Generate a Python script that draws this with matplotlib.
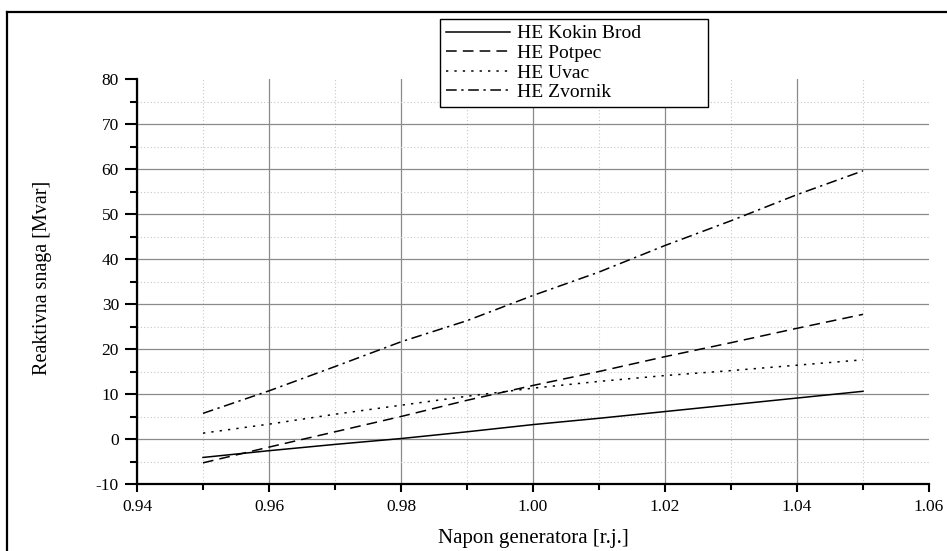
import matplotlib
matplotlib.use("Agg")
import matplotlib.pyplot as plt
from matplotlib.lines import Line2D
from matplotlib.ticker import MultipleLocator, FormatStrFormatter

# ---- data ----
napon = [0.95, 0.96, 0.97, 0.98, 0.99, 1.00, 1.01, 1.02, 1.03, 1.04, 1.05]
kokin_brod = [-4.1, -2.6, -1.2, 0.1, 1.6, 3.2, 4.6, 6.1, 7.6, 9.1, 10.6]
potpec = [-5.3, -1.8, 1.6, 5.0, 8.6, 11.9, 15.0, 18.3, 21.4, 24.6, 27.7]
uvac = [1.3, 3.3, 5.5, 7.5, 9.5, 11.3, 12.8, 14.1, 15.2, 16.4, 17.6]
zvornik = [5.7, 10.7, 16.1, 21.6, 26.3, 31.9, 37.1, 43.0, 48.5, 54.3, 59.6]
labels = ["HE Kokin Brod", "HE Potpec", "HE Uvac", "HE Zvornik"]
xlabel = "Napon generatora [r.j.]"
ylabel = "Reaktivna snaga [Mvar]"

plt.rcParams['font.family'] = ['Liberation Serif', 'DejaVu Serif']

W, H = 947, 551
fig = plt.figure(figsize=(W / 100, H / 100), dpi=100)
ax = fig.add_axes([137 / W, 1 - 484 / H, (929 - 137) / W, (484 - 79) / H])

lw = 1.1
ax.plot(napon, kokin_brod, color='black', lw=lw, linestyle='-', label=labels[0])
ax.plot(napon, potpec, color='black', lw=lw, linestyle=(0, (7, 4)), label=labels[1])
ax.plot(napon, uvac, color='black', lw=lw, linestyle=(0, (1.5, 4)), label=labels[2])
ax.plot(napon, zvornik, color='black', lw=lw, linestyle=(0, (7, 3, 1.5, 3)), label=labels[3])

ax.set_xlim(0.94, 1.06)
ax.set_ylim(-10, 80)
ax.xaxis.set_major_locator(MultipleLocator(0.02))
ax.xaxis.set_minor_locator(MultipleLocator(0.01))
ax.yaxis.set_major_locator(MultipleLocator(10))
ax.yaxis.set_minor_locator(MultipleLocator(5))
ax.xaxis.set_major_formatter(FormatStrFormatter('%.2f'))
ax.yaxis.set_major_formatter(FormatStrFormatter('%d'))

ax.grid(True, which='major', color='#8a8a8a', lw=0.9, ls='-')
ax.grid(True, which='minor', color='#c8c8c8', lw=0.8, ls=(0, (1, 2)))
ax.set_axisbelow(True)

for s in ['top', 'right']:
    ax.spines[s].set_visible(False)
for s in ['left', 'bottom']:
    ax.spines[s].set_linewidth(1.6)

ax.tick_params(axis='y', which='major', direction='out', length=9, width=1.5, labelsize=12.5, pad=4)
ax.tick_params(axis='y', which='minor', direction='out', length=5, width=1.5)
ax.tick_params(axis='x', which='major', direction='out', length=6, width=1.5, labelsize=12.5, pad=5)
ax.tick_params(axis='x', which='minor', direction='out', length=4, width=1.5)

fig.canvas.draw()
# hide gridlines lying on the plot edges (top y=80, right x=1.06)
for tick in ax.yaxis.get_major_ticks():
    if abs(tick.get_loc() - 80) < 1e-9:
        tick.gridline.set_visible(False)
for tick in ax.xaxis.get_major_ticks():
    if abs(tick.get_loc() - 1.06) < 1e-9:
        tick.gridline.set_visible(False)

ax.set_xlabel(xlabel, fontsize=15)
ax.xaxis.label.set_va('center')
ax.xaxis.set_label_coords(0.5, (484 - 538) / 405)
ax.set_ylabel(ylabel, fontsize=14.5)
ax.yaxis.label.set_va('center')
ax.yaxis.set_label_coords((42 - 137) / 792, 0.51)

leg = fig.legend(loc='upper left', bbox_to_anchor=(440 / W, 1 - 120 / H, (708 - 440) / W, (120 - 19) / H),
                 bbox_transform=fig.transFigure, mode='expand', borderaxespad=0,
                 fontsize=14, handlelength=3.3, handletextpad=0.35, labelspacing=0.1,
                 borderpad=0.3, fancybox=False, framealpha=1, edgecolor='black')
leg.get_frame().set_linewidth(1.0)

# outer frame (left and top)
fig.add_artist(Line2D([7 / W, 7 / W], [0, 1 - 12 / H], color='black', lw=1.6, transform=fig.transFigure))
fig.add_artist(Line2D([7 / W, 1], [1 - 12 / H, 1 - 12 / H], color='black', lw=1.6, transform=fig.transFigure))

fig.savefig('out.png', dpi=100)
